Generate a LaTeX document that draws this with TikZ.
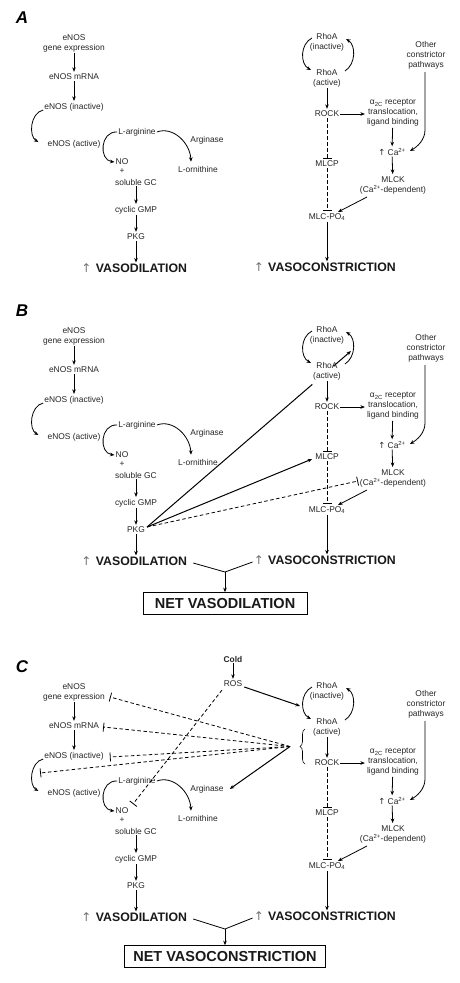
\documentclass[tikz,border=0pt]{standalone}
\usepackage{fontspec}
\setmainfont{Liberation Sans}
\newfontfamily\arrowfont{DejaVu Sans}
\usetikzlibrary{arrows.meta,calc,decorations.pathreplacing}
\tikzset{
  txt/.style={font=\fontsize{8.4}{10}\selectfont, align=center, inner sep=1pt, text=black!85},
  big/.style={font=\bfseries\fontsize{12.3}{14}\selectfont, inner sep=1pt, text=black!90},
  netbox/.style={draw, line width=0.7pt, font=\bfseries\fontsize{14.5}{16}\selectfont, minimum height=22pt, inner sep=0pt, text=black!90},
  paneltag/.style={font=\bfseries\itshape\fontsize{17}{18}\selectfont, inner sep=0pt},
  upar/.style={font=\arrowfont\fontsize{12}{12}\selectfont, text=black!55, inner sep=0pt},
  arr/.style={-{Stealth[length=4.5pt,width=3.6pt]}, line width=0.8pt},
  dsh/.style={dash pattern=on 3.5pt off 2.5pt, line width=0.8pt},
  inh/.style={dsh, -{Bar[width=9pt,line width=0.8pt]}},
  boldline/.style={line width=1pt},
}
\newcommand\basepanel[3]{%
  \node[paneltag] (#1tag) at (22,{18+#2}) {#3};
  % left pathway
  \node[txt] (#1ge) at (74,{43+#2}) {eNOS\\gene expression};
  \node[txt] (#1mr) at (74,{77+#2}) {eNOS mRNA};
  \node[txt] (#1in) at (74,{107+#2}) {eNOS (inactive)};
  \node[txt] (#1ac) at (74,{144+#2}) {eNOS (active)};
  \node[txt] (#1la) at (137,{132+#2}) {L-arginine};
  \node[txt] (#1ag) at (207,{140+#2}) {Arginase};
  \node[txt] (#1lo) at (198,{169+#2}) {L-ornithine};
  \node[txt] (#1no) at (122,{162+#2}) {NO};
  \node[txt] (#1pl) at (122,{171+#2}) {+};
  \node[txt] (#1gc) at (136,{182+#2}) {soluble GC};
  \node[txt] (#1cg) at (136,{210+#2}) {cyclic GMP};
  \node[txt] (#1pk) at (136,{237+#2}) {PKG};
  \node[big] (#1vd) at (141.5,{268+#2}) {VASODILATION};
  \node[upar, anchor=east] (#1vdu) at ([xshift=-3pt]#1vd.west) {↑};
  % right pathway
  \node[txt] (#1ri) at (327,{42+#2}) {RhoA\\(inactive)};
  \node[txt] (#1ra) at (327,{78+#2}) {RhoA\\(active)};
  \node[txt] (#1rk) at (327,{114+#2}) {ROCK};
  \node[txt] (#1mp) at (327,{164+#2}) {MLCP};
  \node[txt] (#1po) at (327,{217+#2}) {MLC-PO\textsubscript{4}};
  \node[big] (#1vc) at (332,{267+#2}) {VASOCONSTRICTION};
  \node[upar, anchor=east] (#1vcu) at ([xshift=-3pt]#1vc.west) {↑};
  \node[txt] (#1a2) at (393,{113+#2}) {α\textsubscript{2C} receptor\\translocation,\\ligand binding};
  \node[txt] (#1ca) at (392,{152+#2}) {{\arrowfont↑} Ca\textsuperscript{2+}};
  \node[txt] (#1ot) at (426,{55+#2}) {Other\\constrictor\\pathways};
  \node[txt] (#1mk) at (393,{185+#2}) {MLCK\\(Ca\textsuperscript{2+}-dependent)};
  % left connectors
  \draw[arr,shorten >=1pt] (#1ge) -- (#1mr);
  \draw[arr,shorten >=1pt] (#1mr) -- (#1in);
  \path (#1in.west) ++(0,3) coordinate (#1c1);
  \path (#1ac.west) ++(-8,-2) coordinate (#1c2);
  \draw[arr] (#1c1) .. controls +(-13,3) and +(-10,-6) .. (#1c2);
  \draw[arr] (#1la.west) .. controls +(-17,-1) and +(-16,-2) .. (#1no.west);
  \path (#1lo.north) ++(-7,-3) coordinate (#1c3);
  \draw[arr] (#1la.east) .. controls +(16,-6) and +(-1,-19) .. (#1c3);
  \draw[arr,shorten >=1pt] (#1gc) -- (#1cg);
  \draw[arr,shorten >=1pt] (#1cg) -- (#1pk);
  \draw[arr] (#1pk) -- (#1pk |- #1vd.north);
  % right connectors
  \path (#1ri.center) ++(-15,-4) coordinate (#1l1);
  \path (#1ra.center) ++(-16,-8) coordinate (#1l2);
  \draw[arr] (#1l1) .. controls +(-12,6) and +(-11,-6) .. (#1l2);
  \path (#1ra.center) ++(18,-7) coordinate (#1r1);
  \path (#1ri.center) ++(19,-3) coordinate (#1r2);
  \draw[arr] (#1r1) .. controls +(11,-7) and +(10,6) .. (#1r2);
  \draw[arr,shorten >=1pt] (#1ra) -- (#1rk);
  \draw[arr,shorten >=1pt] (#1rk.east) -- (#1rk.east -| #1a2.west);
  \draw[arr,shorten >=1pt] (#1a2) -- (#1ca);
  \path (#1ot.south) ++(-1,2) coordinate (#1c4);
  \path (#1ca.east) ++(3,-1) coordinate (#1c5);
  \draw[arr] (#1c4) -- ++(0,58) .. controls +(0,10) and +(7,-4) .. (#1c5);
  \draw[arr,shorten >=1pt] (#1ca) -- (#1mk);
  \path (#1mk.center) ++(-26,12) coordinate (#1c6);
  \path (#1po.center) ++(11,-5) coordinate (#1c7);
  \draw[arr] (#1c6) -- (#1c7);
  \draw[inh,shorten >=1pt] (#1rk) -- (#1mp);
  \draw[inh,shorten >=1pt] (#1mp) -- (#1po);
  \draw[arr] (#1po) -- (#1po |- #1vc.north);
}
\begin{document}
\begin{tikzpicture}[x=1pt,y=-1pt]
\fill[white] (0,0) rectangle (459,983);
\useasboundingbox (0,0) rectangle (459,983);

\basepanel{a}{0}{A}
\basepanel{b}{293}{B}
\basepanel{c}{649}{C}

% ---------- panel B extras ----------
\path (bpk.east) ++(1,-3) coordinate (bp);
\path (bra.center) ++(24,-20) coordinate (barc);
\draw[boldline] (bp) -- ($(bp)!0.81!(barc)$);
\draw[arr,boldline] ($(bp)!0.915!(barc)$) -- (barc);
\path (bmp.west) ++(-2,2) coordinate (bmpin);
\draw[arr,boldline] (bp) -- (bmpin);
\path (bmk.center) ++(-35,3) coordinate (bmkin);
\draw[inh] (bp) -- (bmkin);
\coordinate (bj) at (225,572);
\draw[line width=0.8pt] ([xshift=5pt,yshift=-2pt]bvd.east) -- (bj) -- ([xshift=-1pt,yshift=-2pt]bvcu.west);
\node[netbox, minimum width=164pt] (bnet) at (225,603.5) {NET VASODILATION};
\draw[arr] (bj) -- (bnet.north);

% ---------- panel C extras ----------
\node[txt, font=\bfseries\fontsize{8.4}{10}\selectfont] (cold) at (233,659) {Cold};
\node[txt] (ros) at (233,684) {ROS};
\draw[arr,shorten >=1pt] (cold) -- (ros);
\path (ros.east) ++(1,3) coordinate (rs1);
\path (cri.center) ++(-27,15) coordinate (rs2);
\draw[arr,boldline] (rs1) -- (rs2);
\path (cra.center) ++(-22,2) coordinate (br1);
\path (crk.center) ++(-22,1) coordinate (br2);
\draw[decorate,decoration={brace,amplitude=5pt},line width=0.6pt] (br2) -- (br1);
\coordinate (cP) at (290,746.5);
\path (cge.east) ++(4,5) coordinate (e1);
\path (cmr.east) ++(3,1) coordinate (e2);
\path (cin.east) ++(5,1) coordinate (e3);
\path (cin.west) ++(-3,17) coordinate (e4);
\draw[inh] (cP) -- (e1);
\draw[inh] (cP) -- (e2);
\draw[inh] (cP) -- (e3);
\draw[inh] (cP) -- (e4);
\path (cag.east) ++(5,0) coordinate (e5);
\draw[arr,boldline] (cP) -- (e5);
\path (ros.center) ++(-11,6) coordinate (q1);
\path (cno.center) ++(11,-7) coordinate (q2);
\draw[inh] (q1) -- (q2);
\coordinate (cj) at (225,929);
\draw[line width=0.8pt] ([xshift=5pt,yshift=-2pt]cvd.east) -- (cj) -- ([xshift=-1pt,yshift=-2pt]cvcu.west);
\node[netbox, minimum width=201pt] (cnet) at (225,956.5) {NET VASOCONSTRICTION};
\draw[arr] (cj) -- (cnet.north);
\end{tikzpicture}
\end{document}
